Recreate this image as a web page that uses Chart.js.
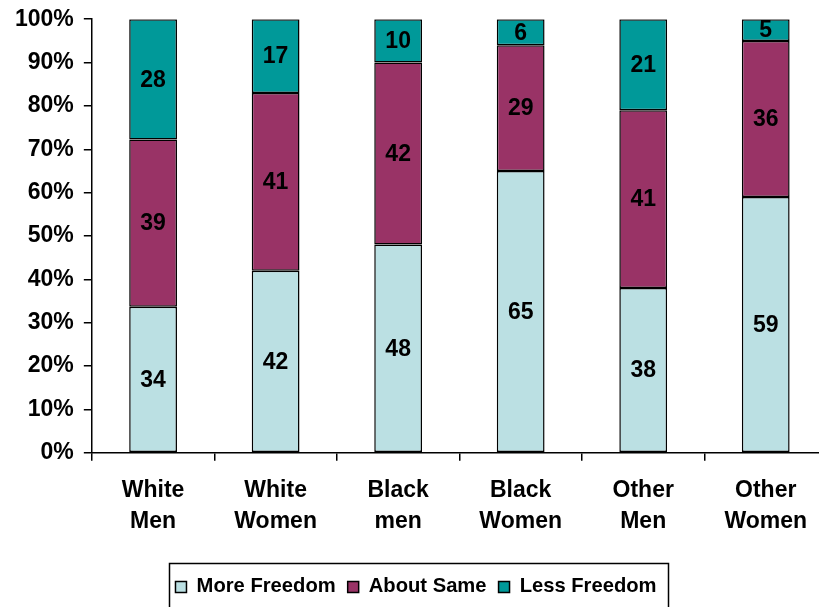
<!DOCTYPE html>
<html>
<head>
<meta charset="utf-8">
<script src="https://cdn.jsdelivr.net/npm/chart.js@4.4.1/dist/chart.umd.min.js"></script>
<style>
  html, body { margin: 0; padding: 0; background: #fff; overflow: hidden; }
  #wrap { width: 830px; height: 607px; }
</style>
</head>
<body>
<div id="wrap"><canvas id="myChart"></canvas></div>
<script>
// data
const groups = [['White', 'Men'], ['White', 'Women'], ['Black', 'men'], ['Black', 'Women'], ['Other', 'Men'], ['Other', 'Women']];
const moreFreedom = [34, 42, 48, 65, 38, 59];
const aboutSame = [39, 41, 42, 29, 41, 36];
const lessFreedom = [28, 17, 10, 6, 21, 5];
const seriesNames = ['More Freedom', 'About Same', 'Less Freedom'];
const seriesColors = ['#BBE0E3', '#993366', '#009999'];

// 100% stacked: share of each row total
const raw = [moreFreedom, aboutSame, lessFreedom];
const totals = groups.map((g, i) => raw.reduce((s, arr) => s + arr[i], 0));
const pct = arr => arr.map((v, i) => v / totals[i] * 100);

const FONT = "'Liberation Sans', Arial, sans-serif";

// numbers in the middle of each segment
const segLabels = {
    id: 'segLabels',
    afterDatasetsDraw(chart) {
        const ctx = chart.ctx;
        ctx.save();
        ctx.font = 'bold 23px ' + FONT;
        ctx.fillStyle = '#000';
        ctx.textAlign = 'center';
        ctx.textBaseline = 'middle';
        chart.data.datasets.forEach((ds, di) => {
            chart.getDatasetMeta(di).data.forEach((bar, i) => {
                const p = bar.getProps(['x', 'y', 'base'], true);
                ctx.fillText(raw[di][i], p.x, (p.y + p.base) / 2 + 1);
            });
        });
        ctx.restore();
    }
};

// frame round the legend
const legendBox = {
    id: 'legendBox',
    afterDraw(chart) {
        const ctx = chart.ctx;
        ctx.save();
        ctx.strokeStyle = '#000';
        ctx.lineWidth = 1.5;
        ctx.strokeRect(169.5, 563.5, 499, 60);
        ctx.restore();
    }
};

const ctx = document.getElementById('myChart');
const myChart = new Chart(ctx, {
    type: 'bar',
    data: {
        labels: groups,
        datasets: raw.map((arr, k) => ({
            label: seriesNames[k],
            data: pct(arr),
            backgroundColor: seriesColors[k],
            borderColor: '#000',
            borderWidth: 1.5,
            borderSkipped: false,
            barPercentage: 0.39,
            categoryPercentage: 1
        }))
    },
    options: {
        responsive: true,
        maintainAspectRatio: false,
        animation: false,
        layout: { padding: { top: 0, left: 5, right: 3, bottom: 0 } },
        plugins: {
            tooltip: { enabled: false },
            legend: {
                position: 'bottom',
                labels: {
                    font: { family: FONT, size: 20.2, weight: 'bold' },
                    color: '#000',
                    boxWidth: 11,
                    boxHeight: 11,
                    padding: 12,
                    useBorderRadius: false
                }
            }
        },
        scales: {
            x: {
                stacked: true,
                border: { color: '#000', width: 1.5 },
                grid: { drawOnChartArea: false, offset: true, color: '#000', lineWidth: 1.5, tickLength: 8 },
                ticks: {
                    color: '#000',
                    font: { family: FONT, size: 23, weight: 'bold', lineHeight: 1.35 },
                    padding: 14,
                    maxRotation: 0
                },
                // extra room between category names and legend
                afterFit: scale => { scale.height += 14; }
            },
            y: {
                stacked: true,
                min: 0,
                max: 100,
                border: { color: '#000', width: 1.5 },
                grid: { drawOnChartArea: false, color: '#000', lineWidth: 1.5, tickLength: 8 },
                ticks: {
                    stepSize: 10,
                    color: '#000',
                    font: { family: FONT, size: 23, weight: 'bold', lineHeight: 0.8 },
                    padding: 10,
                    callback: v => v + '%'
                }
            }
        }
    },
    plugins: [segLabels, legendBox]
});
</script>
</body>
</html>
